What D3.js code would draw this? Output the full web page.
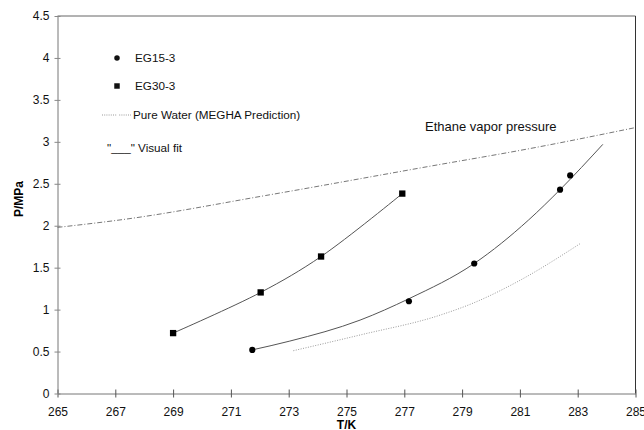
<!DOCTYPE html>
<html>
<head>
<meta charset="utf-8">
<script src="https://cdn.jsdelivr.net/npm/d3@7"></script>
<style>
    body { margin: 0; background: #fff; }
    svg { display: block; font-family: "Liberation Sans", Arial, sans-serif; }
</style>
</head>
<body>
<svg class="chart"></svg>
<script>
'use strict';

var CHART_WIDTH = 644;
var CHART_HEIGHT = 430;
var CHART_MARGIN = { top: 16, right: 8.5, bottom: 36.5, left: 57.5 };

// axis ticks
var tempTicks = [265, 267, 269, 271, 273, 275, 277, 279, 281, 283, 285];
var pressureTicks = [0, 0.5, 1, 1.5, 2, 2.5, 3, 3.5, 4, 4.5];

// measured points
var eg15Temps = [271.74, 277.16, 279.42, 282.39, 282.74];
var eg15Pressures = [0.52, 1.10, 1.55, 2.43, 2.60];
var eg30Temps = [269.0, 272.03, 274.12, 276.93];
var eg30Pressures = [0.72, 1.205, 1.633, 2.383];

// visual fits
var eg15FitTemps = [271.74, 273.04, 275.47, 277.16, 279.42, 281.29, 282.39, 283.87];
var eg15FitPressures = [0.52, 0.625, 0.875, 1.13, 1.55, 2.065, 2.43, 2.97];
var eg30FitTemps = [269.0, 272.03, 274.12, 276.93];
var eg30FitPressures = [0.72, 1.205, 1.633, 2.383];

// pure water (MEGHA prediction)
var waterTemps = [273.16, 275.5, 278.2, 279.4, 280.9, 283.1];
var waterPressures = [0.51, 0.70, 0.93, 1.08, 1.33, 1.79];

// ethane vapor pressure
var ethaneTemps = [265.0, 267.4, 272.2, 277.9, 281.35, 285.0];
var ethanePressures = [1.98, 2.08, 2.36, 2.71, 2.92, 3.17];

var legendLabels = ["EG15-3", "EG30-3", "Pure Water (MEGHA Prediction)", "\"___\" Visual fit"];

var chartDimensions = {
    width: CHART_WIDTH - CHART_MARGIN.left - CHART_MARGIN.right,
    height: CHART_HEIGHT - CHART_MARGIN.top - CHART_MARGIN.bottom
};

var xScale = d3.scaleLinear()
    .domain([265, 285])
    .range([0, chartDimensions.width]);

var yScale = d3.scaleLinear()
    .domain([0, 4.5])
    .range([chartDimensions.height, 0]);

var chart = d3.select('.chart')
    .attr("width", CHART_WIDTH)
    .attr("height", CHART_HEIGHT);

var inner = chart.append("g")
    .attr("transform", "translate(" + CHART_MARGIN.left + "," + CHART_MARGIN.top + ")");

renderFrame(inner);
renderAxes(inner);
renderLine(inner, ethaneTemps, ethanePressures, "#777", "5,2,1,2", d3.curveMonotoneX);
renderLine(inner, waterTemps, waterPressures, "#9a9a9a", "1,1.5", d3.curveMonotoneX);
renderLine(inner, eg30FitTemps, eg30FitPressures, "#555", null, d3.curveCatmullRom);
renderLine(inner, eg15FitTemps, eg15FitPressures, "#555", null, d3.curveMonotoneX);
renderPoints(inner, eg15Temps, eg15Pressures, d3.symbolCircle, 30);
renderPoints(inner, eg30Temps, eg30Pressures, d3.symbolSquare, 40);
renderLegend(chart);

chart.append("text")
    .attr("x", 425)
    .attr("y", 131)
    .attr("font-size", 13)
    .attr("fill", "#111")
    .text("Ethane vapor pressure");

/**
 * Draw the box around the plot
 * @param {Object} g inner group
 */
function renderFrame(g) {
    g.append("line")
        .attr("x1", 0).attr("x2", chartDimensions.width)
        .attr("y1", 0).attr("y2", 0)
        .attr("stroke", "#666");
    g.append("line")
        .attr("x1", chartDimensions.width).attr("x2", chartDimensions.width)
        .attr("y1", 0).attr("y2", chartDimensions.height)
        .attr("stroke", "#333");
}

/**
 * Draw both axes with crossing tick marks
 * @param {Object} g inner group
 */
function renderAxes(g) {
    var xAxis = d3.axisBottom(xScale)
        .tickValues(tempTicks)
        .tickSizeInner(4)
        .tickSizeOuter(0)
        .tickPadding(10)
        .tickFormat(d3.format("d"));

    var xg = g.append("g")
        .attr("transform", "translate(0," + chartDimensions.height + ")")
        .call(xAxis);
    xg.selectAll(".tick line").attr("y1", -4).attr("stroke", "#555");

    var yAxis = d3.axisLeft(yScale)
        .tickValues(pressureTicks)
        .tickSizeInner(3)
        .tickSizeOuter(0)
        .tickPadding(5)
        .tickFormat(function (d) { return d; });

    var yg = g.append("g").call(yAxis);
    yg.selectAll(".tick line").attr("x1", 3).attr("stroke", "#888");

    [xg, yg].forEach(function (axis) {
        axis.select(".domain").attr("stroke", "#777");
        axis.selectAll("text")
            .attr("font-family", "Liberation Sans, Arial, sans-serif")
            .attr("font-size", 12)
            .attr("fill", "#111");
    });

    g.append("text")
        .attr("x", chartDimensions.width / 2)
        .attr("y", chartDimensions.height + 35)
        .attr("text-anchor", "middle")
        .attr("font-size", 12)
        .attr("font-weight", "bold")
        .text("T/K");

    g.append("text")
        .attr("transform", "translate(" + (-34.5) + "," + (183) + ") rotate(-90)")
        .attr("text-anchor", "middle")
        .attr("font-size", 12)
        .attr("font-weight", "bold")
        .text("P/MPa");
}

/**
 * Draw a curve through the given values
 */
function renderLine(g, temps, pressures, color, dash, curve) {
    var line = d3.line()
        .x(function (d) { return xScale(d[0]); })
        .y(function (d) { return yScale(d[1]); })
        .curve(curve);

    g.append("path")
        .datum(d3.zip(temps, pressures))
        .attr("d", line)
        .attr("fill", "none")
        .attr("stroke", color)
        .attr("stroke-width", 1)
        .attr("stroke-dasharray", dash);
}

/**
 * Draw measured points with a symbol
 */
function renderPoints(g, temps, pressures, type, size) {
    g.selectAll(null)
        .data(d3.zip(temps, pressures))
        .enter()
        .append("path")
        .attr("transform", function (d) {
            return "translate(" + xScale(d[0]) + "," + yScale(d[1]) + ")";
        })
        .attr("d", d3.symbol().type(type).size(size))
        .attr("fill", "#000");
}

/**
 * Legend in the upper left corner
 * @param {Object} svg chart selector
 */
function renderLegend(svg) {
    var lg = svg.append("g").attr("font-size", 11.7).attr("fill", "#111");

    lg.append("path")
        .attr("transform", "translate(117,58)")
        .attr("d", d3.symbol().type(d3.symbolCircle).size(24));
    lg.append("path")
        .attr("transform", "translate(117,86)")
        .attr("d", d3.symbol().type(d3.symbolSquare).size(30));

    lg.append("line")
        .attr("x1", 102).attr("x2", 131)
        .attr("y1", 115).attr("y2", 115)
        .attr("stroke", "#999")
        .attr("stroke-dasharray", "1,1.2,1,1.2,1,1.2,1,1.2,1,1.2,1,1.2,1,3");

    var positions = [[135, 58], [135, 86], [133, 115], [107, 148]];
    legendLabels.forEach(function (label, i) {
        lg.append("text")
            .attr("x", positions[i][0])
            .attr("y", positions[i][1])
            .attr("dy", "0.35em")
            .text(label);
    });
}
</script>
</body>
</html>
